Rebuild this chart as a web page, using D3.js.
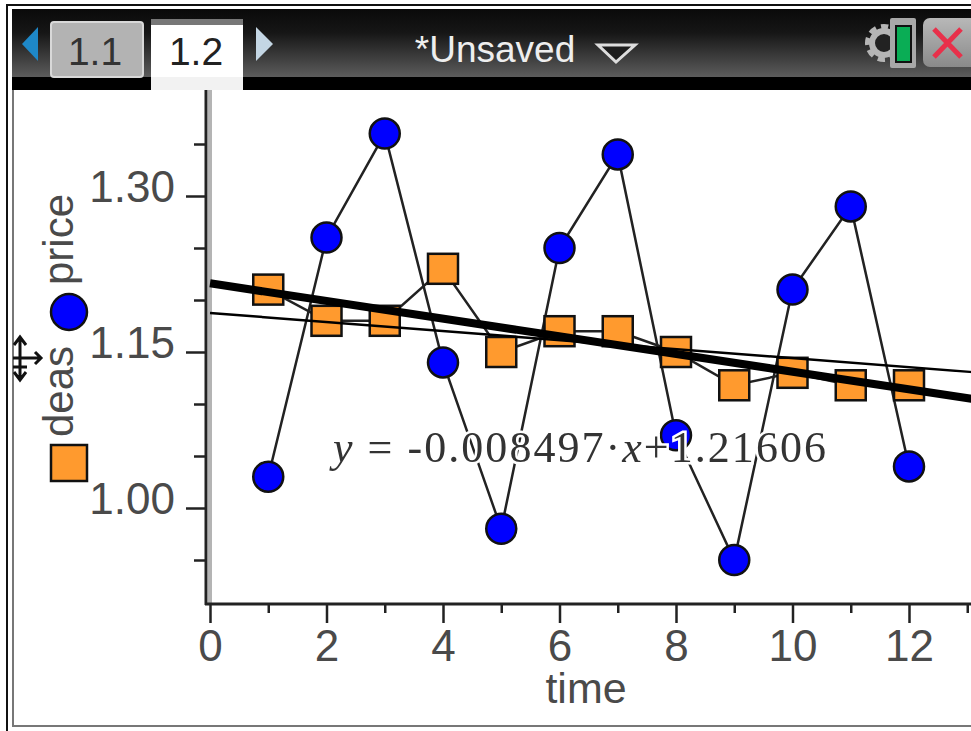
<!DOCTYPE html>
<html>
<head>
<meta charset="utf-8">
<script src="https://cdn.jsdelivr.net/npm/d3@7"></script>
<style>
html, body { margin: 0; padding: 0; background: #fff; overflow: hidden; }
svg { display: block; filter: blur(0.7px); }
text { font-family: "Liberation Sans", Arial, sans-serif; }
</style>
</head>
<body>
<svg></svg>
<script>
const size = {w: 971, h: 731};

// values
const times = [1, 2, 3, 4, 5, 6, 7, 8, 9, 10, 11, 12];
const price = [1.03, 1.26, 1.36, 1.14, 0.98, 1.25, 1.34, 1.07, 0.95, 1.21, 1.29, 1.04];
const deas = [1.21, 1.18, 1.18, 1.23, 1.15, 1.17, 1.17, 1.15, 1.118, 1.13, 1.118, 1.118];
const xTicks = [0, 1, 2, 3, 4, 5, 6, 7, 8, 9, 10, 11, 12, 13];
const yTicks = [0.95, 1.00, 1.05, 1.10, 1.15, 1.20, 1.25, 1.30, 1.35];
const yLabelled = [1.00, 1.15, 1.30];
const thickFit = {slope: -0.008497, intercept: 1.21606};
const thinFit = {slope: -0.00434, intercept: 1.1875};
const fitEnds = [0, 13.1];

const svg = d3.select('svg')
    .attr('width', size.w)
    .attr('height', size.h);

const defs = svg.append('defs');
const headGrad = defs.append('linearGradient')
    .attr('id', 'head').attr('x1', 0).attr('x2', 0).attr('y1', 0).attr('y2', 1);
headGrad.append('stop').attr('offset', '0%').attr('stop-color', '#0a0a0a');
headGrad.append('stop').attr('offset', '35%').attr('stop-color', '#161616');
headGrad.append('stop').attr('offset', '100%').attr('stop-color', '#5c5c5c');
const closeGrad = defs.append('linearGradient')
    .attr('id', 'closeBtn').attr('x1', 0).attr('x2', 0).attr('y1', 0).attr('y2', 1);
closeGrad.append('stop').attr('offset', '0%').attr('stop-color', '#b8b8b8');
closeGrad.append('stop').attr('offset', '100%').attr('stop-color', '#8a8a8a');

let x = d3.scaleLinear().domain([0, 12]).range([210, 909]);
let y = d3.scaleLinear().domain([1.00, 1.30]).range([508, 196]);
const axisX = 206;
const axisY = 604;

// frame and device header
const frame = svg.append('g');
frame.append('rect').attr('x', 7).attr('y', 5).attr('width', 970).attr('height', 740)
    .attr('fill', 'none').attr('stroke', '#111').attr('stroke-width', 2);
frame.append('rect').attr('x', 13).attr('y', 10).attr('width', 970).attr('height', 716)
    .attr('fill', '#fff').attr('stroke', '#777').attr('stroke-width', 2);
frame.append('rect').attr('x', 12).attr('y', 9).attr('width', 959).attr('height', 68)
    .attr('fill', 'url(#head)');
frame.append('rect').attr('x', 12).attr('y', 77).attr('width', 959).attr('height', 13)
    .attr('fill', '#000');

frame.append('rect').attr('x', 51).attr('y', 22).attr('width', 92).attr('height', 55)
    .attr('rx', 3).attr('fill', '#b3b3b3').attr('stroke', '#d8d8d8').attr('stroke-width', 2);
frame.append('rect').attr('x', 151).attr('y', 19).attr('width', 92).attr('height', 8)
    .attr('fill', '#777');
frame.append('rect').attr('x', 151).attr('y', 25).attr('width', 92).attr('height', 65)
    .attr('fill', '#fff');
frame.append('rect').attr('x', 151).attr('y', 77).attr('width', 92).attr('height', 13)
    .attr('fill', '#f2f2f2');
frame.append('text').attr('x', 95).attr('y', 65).attr('text-anchor', 'middle')
    .attr('font-size', 39).attr('fill', '#333').text('1.1');
frame.append('text').attr('x', 196).attr('y', 65).attr('text-anchor', 'middle')
    .attr('font-size', 39).attr('fill', '#222').text('1.2');
frame.append('path').attr('d', 'M38,27 L22,44 L38,61 Z').attr('fill', '#1e88c8');
frame.append('path').attr('d', 'M256,27 L273,44 L256,61 Z').attr('fill', '#c4d6e4');
frame.append('text').attr('x', 495).attr('y', 62).attr('text-anchor', 'middle')
    .attr('font-size', 37).attr('fill', '#eee').text('*Unsaved');
frame.append('path').attr('d', 'M598,45 L635,45 L616,62 Z')
    .attr('fill', '#1c1c1c').attr('stroke', '#ddd').attr('stroke-width', 3);

// gear, battery and close button
frame.append('circle').attr('cx', 884).attr('cy', 43).attr('r', 16)
    .attr('fill', 'none').attr('stroke', '#b5b5b5').attr('stroke-width', 6)
    .attr('stroke-dasharray', '7 5');
frame.append('circle').attr('cx', 884).attr('cy', 43).attr('r', 12)
    .attr('fill', '#222').attr('stroke', '#b5b5b5').attr('stroke-width', 6);
frame.append('rect').attr('x', 890).attr('y', 18).attr('width', 26).attr('height', 50)
    .attr('rx', 2).attr('fill', '#a8a8a8');
frame.append('rect').attr('x', 895).attr('y', 25).attr('width', 17).attr('height', 38)
    .attr('fill', '#111');
frame.append('rect').attr('x', 897).attr('y', 27).attr('width', 13).attr('height', 34)
    .attr('fill', '#0aad55');
frame.append('rect').attr('x', 923).attr('y', 18).attr('width', 60).attr('height', 49)
    .attr('rx', 7).attr('fill', 'url(#closeBtn)');
frame.append('path').attr('d', 'M934,29 L961,57 M961,29 L934,57')
    .attr('stroke', '#e8304a').attr('stroke-width', 5).attr('fill', 'none');

const containerG = svg.append('g').classed('container', true);

// y axis, grey edge sits just inside the dark line
containerG.append('line')
    .attr('x1', axisX + 4).attr('x2', axisX + 4).attr('y1', 90).attr('y2', axisY)
    .attr('stroke', '#b4b4b4').attr('stroke-width', 4);

let yAxis = d3.axisLeft(y)
    .tickValues(yTicks)
    .tickFormat(d => d3.format('.2f')(d))
    .tickSize(12)
    .tickPadding(14);
let yG = containerG.append('g')
    .attr('transform', `translate(${axisX},0)`)
    .call(yAxis);
yG.select('.domain').remove();
yG.selectAll('.tick line').attr('stroke', '#222').attr('stroke-width', 2.5)
    .attr('x2', d => yLabelled.includes(d) ? -20 : -12);
yG.selectAll('.tick text')
    .attr('x', -31)
    .attr('dy', '5px')
    .attr('font-size', 44)
    .attr('font-family', '"Liberation Sans", Arial, sans-serif')
    .attr('fill', '#4a4a4a')
    .text(d => yLabelled.includes(d) ? d3.format('.2f')(d) : '');
containerG.append('line')
    .attr('x1', axisX).attr('x2', axisX).attr('y1', 90).attr('y2', axisY + 1)
    .attr('stroke', '#222').attr('stroke-width', 3);

let xAxis = d3.axisBottom(x)
    .tickValues(xTicks)
    .tickSize(10)
    .tickPadding(14);
let xG = containerG.append('g')
    .attr('transform', `translate(0,${axisY})`)
    .call(xAxis);
xG.select('.domain').remove();
xG.selectAll('.tick line').attr('stroke', '#222').attr('stroke-width', 2.5)
    .attr('y2', d => d % 2 === 0 ? 19 : 9);
xG.selectAll('.tick text')
    .attr('y', 26)
    .attr('font-size', 44)
    .attr('font-family', '"Liberation Sans", Arial, sans-serif')
    .attr('fill', '#4a4a4a')
    .text(d => d % 2 === 0 && d <= 12 ? d : '');
containerG.append('line')
    .attr('x1', axisX - 1).attr('x2', size.w).attr('y1', axisY).attr('y2', axisY)
    .attr('stroke', '#222').attr('stroke-width', 3);

// axis titles
containerG.append('text').attr('x', 586).attr('y', 703).attr('text-anchor', 'middle')
    .attr('font-size', 43).attr('fill', '#4a4a4a').text('time');
containerG.append('text').attr('transform', 'translate(73,285) rotate(-90)')
    .attr('font-size', 42).attr('fill', '#4a4a4a').text('price');
containerG.append('text').attr('transform', 'translate(73,437) rotate(-90)')
    .attr('font-size', 42).attr('fill', '#4a4a4a').text('deas');

// legend markers
containerG.append('circle').attr('cx', 69).attr('cy', 312).attr('r', 18)
    .attr('fill', '#0000ff').attr('stroke', '#111').attr('stroke-width', 2.5);
containerG.append('rect').attr('x', 51).attr('y', 445).attr('width', 36).attr('height', 36)
    .attr('fill', '#ff9a2e').attr('stroke', '#111').attr('stroke-width', 2.5);

// pan cursor next to the y axis title
containerG.append('path')
    .attr('d', 'M20,338 L20,379 M13,358 L40,358 M14,345 L20,337 L26,345 M14,372 L20,380 L26,372 M35,352 L41,358 L35,364 M13,367 L27,367')
    .attr('fill', 'none').attr('stroke', '#111').attr('stroke-width', 3);

const line = d3.line().x((d, i) => x(times[i])).y(d => y(d));

containerG.append('path').datum(price).attr('d', line)
    .attr('fill', 'none').attr('stroke', '#222').attr('stroke-width', 2.5);
containerG.append('path').datum(deas).attr('d', line)
    .attr('fill', 'none').attr('stroke', '#222').attr('stroke-width', 2.5);

containerG.selectAll('rect.deas')
    .data(deas)
    .join('rect')
    .classed('deas', true)
    .attr('x', (d, i) => x(times[i]) - 15)
    .attr('y', d => y(d) - 15)
    .attr('width', 30)
    .attr('height', 30)
    .attr('fill', '#ff9a2e')
    .attr('stroke', '#111')
    .attr('stroke-width', 2.5);

containerG.selectAll('circle.price')
    .data(price)
    .join('circle')
    .classed('price', true)
    .attr('cx', (d, i) => x(times[i]))
    .attr('cy', d => y(d))
    .attr('r', 15)
    .attr('fill', '#0000ff')
    .attr('stroke', '#111')
    .attr('stroke-width', 2.5);

// regression lines go over the markers
containerG.selectAll('line.fit')
    .data([thinFit, thickFit])
    .join('line')
    .classed('fit', true)
    .attr('x1', x(fitEnds[0]))
    .attr('x2', x(fitEnds[1]))
    .attr('y1', d => y(d.intercept + d.slope * fitEnds[0]))
    .attr('y2', d => y(d.intercept + d.slope * fitEnds[1]))
    .attr('stroke', '#000')
    .attr('stroke-width', (d, i) => i === 0 ? 2.5 : 8);

// equation, white halo cuts through the lines behind it
const eq = containerG.append('text')
    .attr('x', 333)
    .attr('y', 462)
    .style('font-family', '"Liberation Serif", "Times New Roman", serif')
    .attr('font-size', 44)
    .attr('fill', '#333')
    .attr('stroke', '#fff')
    .attr('stroke-width', 5)
    .attr('paint-order', 'stroke')
    .attr('textLength', 493)
    .attr('lengthAdjust', 'spacing');
eq.append('tspan').attr('font-style', 'italic').text('y');
eq.append('tspan').text(' = -0.008497\u00b7');
eq.append('tspan').attr('font-style', 'italic').text('x');
eq.append('tspan').text('+1.21606');
</script>
</body>
</html>
